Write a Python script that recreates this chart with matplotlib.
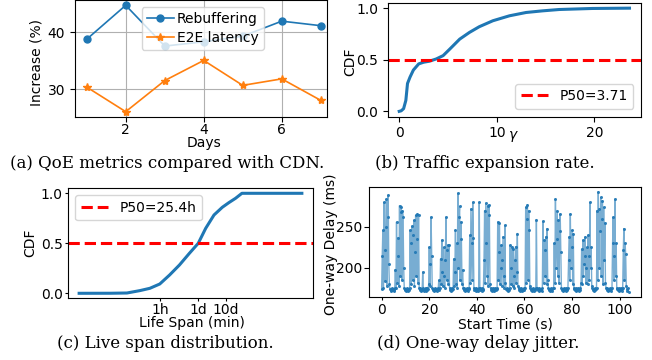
import numpy as np
import matplotlib
matplotlib.use("Agg")
import matplotlib.pyplot as plt

# ---------------- data ----------------
days = [1, 2, 3, 4, 5, 6, 7]
rebuffering = [38.8, 44.8, 37.6, 38.35, 39.35, 42.0, 41.2]
e2e_latency = [30.35, 26.0, 31.5, 35.06, 30.65, 31.8, 28.0]

gamma = [0.0, 0.2, 0.45, 0.68, 0.85, 1.1, 1.45, 2.0, 2.5, 3.1, 3.8, 4.5, 5.2,
         6.2, 7.2, 8.2, 9.6, 11.3, 13.0, 14.7, 16.4, 19.8, 23.6]
gamma_cdf = [0.0, 0.005, 0.026, 0.106, 0.27, 0.33, 0.40, 0.46, 0.476, 0.486,
             0.508, 0.54, 0.605, 0.70, 0.765, 0.82, 0.878, 0.926, 0.958, 0.974,
             0.987, 0.997, 1.0]
gamma_p50 = 0.5

life_span_min = [0.0726, 1.0, 3.9, 11.5, 26.3, 60, 136, 309, 708, 1480, 2754,
                 5495, 10965, 19055, 33113, 56234, 8.3e6]
life_cdf = [0.0, 0.0005, 0.003, 0.027, 0.05, 0.093, 0.183, 0.283, 0.40, 0.50,
            0.65, 0.783, 0.86, 0.907, 0.95, 1.0, 1.0]
life_ticks = [60, 1440, 14400]
life_ticklabels = ["1h", "1d", "10d"]

# one-way delay (ms), one row per second, sampled every 0.25 s
sample_interval_s = 0.25
delay_ms = [
    174, 215, 246, 176,   280, 222, 184, 250,   284, 178, 262, 289,
    205, 180, 174, 173,   172, 175, 173, 174,   173, 172, 175, 198,
    176, 256, 182, 215,   237, 178, 276, 190,   274, 268, 185, 270,
    262, 200, 175, 173,   174, 172, 175, 173,   172, 174, 173, 175,
    246, 180, 230, 251,   185, 240, 258, 178,   220, 264, 190, 235,
    266, 182, 265, 176,   173, 175, 172, 174,   173, 195, 175, 172,
    174, 173, 176, 172,   175, 173, 174, 180,   225, 178, 205, 262,
    215, 176, 174, 173,   172, 175, 173, 174,   173, 172, 175, 174,
    185, 173, 175, 211,   180, 234, 195, 178,   225, 190, 176, 210,
    262, 185, 222, 228,   180, 228, 176, 173,   174, 172, 175, 173,
    174, 211, 178, 195,   246, 180, 230, 176,   291, 200, 262, 275,
    185, 256, 235, 180,   198, 176, 173, 175,   172, 174, 173, 175,
    173, 172, 174, 176,   240, 182, 272, 230,   185, 280, 236, 175,
    173, 174, 172, 175,   173, 174, 172, 176,   280, 175, 173, 174,
    172, 175, 173, 174,   210, 270, 182, 279,   230, 190, 276, 178,
    277, 265, 180, 175,   173, 174, 172, 175,   173, 172, 174, 175,
    173, 174, 176, 256,   185, 220, 255, 180,   200, 228, 178, 210,
    238, 190, 176, 252,   182, 174, 173, 175,   172, 174, 173, 176,
    228, 180, 200, 226,   178, 223, 190, 176,   210, 226, 182, 195,
    242, 178, 175, 173,   174, 172, 175, 173,   172, 174, 173, 175,
    173, 176, 274, 182,   260, 277, 185, 270,   246, 178, 175, 173,
    174, 172, 175, 173,   172, 174, 173, 175,   259, 176, 173, 174,
    172, 175, 173, 174,   173, 172, 175, 257,   182, 234, 190, 222,
    238, 180, 248, 185,   176, 173, 174, 172,   175, 173, 174, 172,
    175, 176, 230, 182,   284, 200, 235, 270,   190, 258, 182, 245,
    266, 220, 176, 173,   174, 172, 175, 173,   174, 172, 175, 173,
    174, 176, 210, 238,   185, 266, 200, 225,   246, 180, 242, 176,
    174, 173, 175, 172,   174, 173, 175, 172,   174, 173, 176, 182,
    223, 180, 234, 190,   205, 215, 238, 182,   200, 225, 180, 240,
    185, 215, 280, 200,   225, 178, 176, 173,   174, 172, 175, 173,
    174, 176, 270, 185,   293, 200, 272, 245,   286, 190, 260, 282,
    180, 274, 210, 255,   182, 176, 173, 175,   172, 174, 173, 175,
    173, 172, 174, 176,   230, 262, 185, 215,   284, 190, 230, 176,
    174, 173, 175, 172,   174, 173, 175, 172,   174, 176, 222, 248,
    185, 230, 217, 178,   174, 172, 175, 171,
]
start_time = np.arange(len(delay_ms)) * sample_interval_s

captions = ["(a) QoE metrics compared with CDN.",
            "(b) Traffic expansion rate.",
            "(c) Live span distribution.",
            "(d) One-way delay jitter."]

# ---------------- figure ----------------
plt.rcParams['font.family'] = ['DejaVu Sans']
plt.rcParams['font.size'] = 10

W, H = 652, 360
fig = plt.figure(figsize=(W / 100, H / 100), dpi=100)


def fx(px):
    return px / W


def fy(py):
    return 1 - py / H


def add_ax(x0, y0, x1, y1):
    return fig.add_axes([fx(x0), fy(y1), (x1 - x0) / W, (y1 - y0) / H])


def place_labels(ax, xl, yl):
    ax.xaxis.set_label_coords(fx(xl[0]), fy(xl[1]), transform=fig.transFigure)
    ax.xaxis.label.set_va('baseline')
    ax.yaxis.set_label_coords(fx(yl[0]), fy(yl[1]), transform=fig.transFigure)
    ax.yaxis.label.set_va('center')


blue = '#1f77b4'
orange = '#ff7f0e'

# (a)
axa = add_ax(75, 0, 327, 117)
axa.plot(days, rebuffering, '-o', color=blue, ms=5, lw=1.2, label='Rebuffering')
axa.plot(days, e2e_latency, '-*', color=orange, ms=6, lw=1.2, label='E2E latency')
axa.set_xlim(0.7, 7.16)
axa.set_xticks([2, 4, 6])
axa.set_yticks([30, 40])
axa.grid(True, color='#b0b0b0', lw=0.8)
axa.tick_params(axis='x', pad=0.8)
axa.set_xlabel('Days')
axa.set_ylabel('Increase (%)')
place_labels(axa, (204, 146.5), (36, 62.5))
axa.legend(loc='upper left', bbox_to_anchor=(fx(141.7), fy(7.3)),
           bbox_transform=fig.transFigure, borderaxespad=0, handlelength=2.0,
           handletextpad=0.2, labelspacing=0.35, borderpad=0.35)

# (b)
axb = add_ax(387.7, 3, 641, 116.5)
axb.plot(gamma, gamma_cdf, color=blue, lw=2.2)
axb.axhline(gamma_p50, color='red', ls='--', lw=2.2, label='P50=3.71')
axb.set_xticks([0, 10, 20])
axb.set_yticks([0, 0.5, 1.0])
axb.set_xlabel(r'$\gamma$')
axb.set_ylabel('CDF')
place_labels(axb, (513.7, 139.5), (349.8, 62))
axb.legend(loc='lower right', borderaxespad=0.55)

# (c)
axc = add_ax(68, 188.3, 313, 298.3)
axc.plot(life_span_min, life_cdf, color=blue, lw=2.2)
axc.axhline(0.5, color='red', ls='--', lw=2.2, label='P50=25.4h')
axc.set_xscale('log')
axc.set_xticks(life_ticks)
axc.set_xticklabels(life_ticklabels)
axc.minorticks_off()
axc.set_yticks([0, 0.5, 1.0])
axc.tick_params(axis='both', length=2.5, pad=1.2)
axc.set_xlabel('Life Span (min)')
axc.set_ylabel('CDF')
place_labels(axc, (191.7, 327.5), (30, 242.5))
axc.legend(loc='upper left')

# (d)
axd = add_ax(369.3, 186.7, 641, 296.7)
axd.plot(start_time, delay_ms, '-', color=blue, alpha=0.6, lw=1.0)
axd.plot(start_time, delay_ms, 'o', color=blue, ms=2.2, mew=0, alpha=0.9)
axd.set_xticks([0, 20, 40, 60, 80, 100])
axd.set_yticks([200, 250])
axd.tick_params(axis='x', length=2.5, pad=2)
axd.tick_params(axis='y', pad=1.5)
axd.set_xlabel('Start Time (s)')
axd.set_ylabel('One-way Delay (ms)')
place_labels(axd, (505, 328.5), (331, 244))

# captions
cap_font = dict(family='DejaVu Serif', size=12, ha='center', va='baseline')
fig.text(fx(167), fy(168.5), captions[0], **cap_font)
fig.text(fx(484.7), fy(168.5), captions[1], **cap_font)
fig.text(fx(165), fy(348.5), captions[2], **cap_font)
fig.text(fx(478.5), fy(348.5), captions[3], **cap_font)

fig.savefig('out.png', dpi=100)
